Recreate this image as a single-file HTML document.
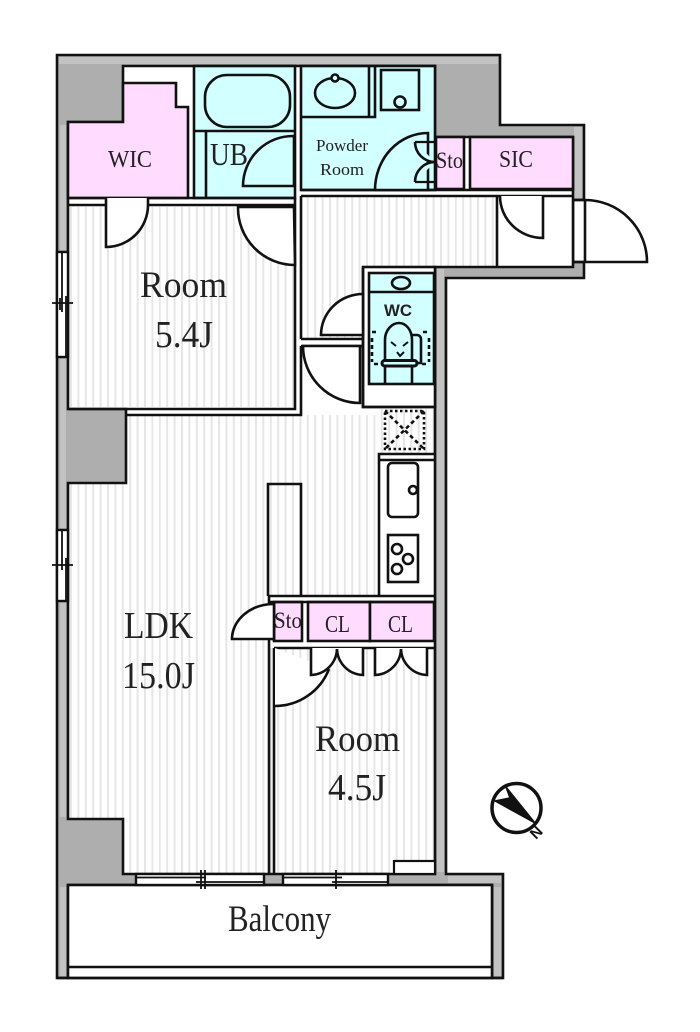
<!DOCTYPE html>
<html><head><meta charset="utf-8">
<style>html,body{margin:0;padding:0;background:#fff}svg{display:block}
text{font-family:"Liberation Serif",serif;fill:#222}</style></head>
<body>
<svg width="700" height="1032" viewBox="0 0 700 1032" xmlns="http://www.w3.org/2000/svg">
<defs>
<pattern id="st" x="68" y="0" width="7.4" height="20" patternUnits="userSpaceOnUse"><rect x="2" width="2" height="20" fill="#e6e6e6"/></pattern>
</defs>
<rect width="700" height="1032" fill="#fff"/>
<!-- outer concrete -->
<path d="M57,55H500V125H584V200H573V262H584V278H446V874H503V978H492V885H68V978H57Z" fill="#aeaeae" stroke="#111" stroke-width="2.6"/>
<!-- lighter thin wall bands -->
<g fill="#c2c2c2">
<rect x="59" y="57" width="439" height="7"/>
<rect x="60" y="125" width="6" height="125"/>
<rect x="60" y="359" width="6" height="169"/>
<rect x="60" y="603" width="6" height="214"/>
<rect x="60" y="887" width="6" height="89"/>
<rect x="494" y="887" width="7" height="89"/>
<rect x="574" y="127" width="8" height="71"/>
<rect x="437" y="269" width="7" height="603"/>
<rect x="448" y="876" width="53" height="7"/>
</g>
<!-- interior -->
<path d="M123,66H435V137H573V267H435V874H123V819H68V483H126V409H68V122H123Z" fill="#fff"/>
<path d="M69,207H295V407H69Z M126,415H379V596H269V648H274V874H123V819H69V483H126Z M301,196H497V267H363V340H301Z M275,649H434V874H275Z M379,409H434V454H379Z" fill="url(#st)"/>
<path d="M123,66H435V137H573V267H435V874H123V819H68V483H126V409H68V122H123Z" fill="none" stroke="#111" stroke-width="2.6"/>
<!-- wet rooms -->
<g stroke="#111" stroke-width="2.6">
<path d="M68,122H123V83H176V107H188V198H68Z" fill="#ffdcff"/>
<rect x="194" y="66" width="101" height="132" fill="#d2ffff"/>
<rect x="301" y="66" width="134" height="124" fill="#d2ffff"/>
<rect x="436" y="137" width="28" height="52" fill="#ffdcff"/>
<rect x="470" y="137" width="103" height="52" fill="#ffdcff"/>
<rect x="363" y="267" width="72" height="140" fill="#fff"/>
<rect x="369" y="273" width="65" height="111" fill="#d2ffff"/>
<rect x="274" y="602" width="28" height="39" fill="#ffdcff"/>
<rect x="308" y="602" width="62" height="39" fill="#ffdcff"/>
<rect x="370" y="602" width="64" height="39" fill="#ffdcff"/>
</g>
<!-- partition walls -->
<g fill="none" stroke="#111" stroke-width="2.6">
<path d="M194,131H295M206,131V198"/>
<rect x="205" y="75" width="85" height="52" rx="22"/>
<path d="M68,198H295M68,205H295M295,198V408M301,196V339M301,190H573M301,196H573M497,196V267"/>
<path d="M301,117H369M369,66V117H375V66"/>
<rect x="381" y="70" width="38" height="40"/>
<circle cx="400" cy="102" r="5.5"/>
<ellipse cx="335" cy="93" rx="20" ry="15"/>
<circle cx="335" cy="78" r="3.5" fill="#d2ffff"/>
<path d="M369,292H434"/>
<ellipse cx="401" cy="283" rx="9" ry="6"/>
<path d="M68,409H295V408M126,415H301V346M301,339H363M301,346H363"/>
<path d="M363,267V407H435" />
<path d="M379,596V454H434M379,460H434"/>
<path d="M268,596V484H301V596"/>
<path d="M269,596H435M269,602H435M269,596V875M274,648V875M274,648H435M274,602V641"/>
<rect x="394" y="861" width="41" height="13" fill="#fff" stroke-width="2.2"/>
<rect x="388" y="463" width="30" height="54" rx="4"/>
<circle cx="413" cy="490" r="4" fill="#fff"/>
<rect x="388" y="535" width="30" height="47"/>
<circle cx="397" cy="549" r="5"/><circle cx="408" cy="559" r="5"/><circle cx="397" cy="569" r="5"/>
<rect x="385" y="411" width="39" height="38" stroke-dasharray="2.5 2.5"/>
<path d="M385,411L424,449M424,411L385,449" stroke-dasharray="4 3"/>
</g>
<!-- doors -->
<g fill="#fff" stroke="#111" stroke-width="2.6">
<path d="M106,198V247A42,42 0 0 0 148,205V198" />
<path d="M294,207H238A57,57 0 0 0 295,265Z"/>
<path d="M294,186H243A50,50 0 0 1 294,136Z" fill="#d2ffff"/>
<path d="M428,133A53,57 0 0 0 375,190H428Z" fill="#d2ffff"/>
<path d="M415,142A20,20 0 0 0 435,162M415,182A20,20 0 0 1 435,162" fill="#d2ffff"/>
<path d="M415,182H435M415,142H435" fill="none" stroke-width="2.2"/>
<path d="M500,196A43,42 0 0 0 543,238V196" />
<path d="M585,200A62,62 0 0 1 647,262H585Z"/>
<path d="M363,294A42,41 0 0 0 321,335H363Z"/>
<path d="M303,346A57,57 0 0 0 360,403V346Z"/>
<path d="M274,604A42,35 0 0 0 232,639H274Z"/>
<path d="M275,706A58,58 0 0 0 329,669L275,648Z" stroke="none"/>
<path d="M275,706A58,58 0 0 0 329,669" fill="none"/>
<path d="M311,648V675A27,27 0 0 0 337,649A27,27 0 0 0 363,675V648"/>
<path d="M375,648V675A27,27 0 0 0 401,649A27,27 0 0 0 427,675V648"/>
<path d="M573,200H585M573,262H585" fill="none"/>
</g>
<rect x="574.5" y="201.5" width="9" height="59" fill="#fff"/>
<!-- balcony -->
<g stroke="#111" stroke-width="2.6">
<rect x="68" y="885" width="424" height="93" fill="#fff"/>
<path d="M68,967H492M57,978H503" fill="none"/>
</g>
<!-- sashes -->
<g fill="#fff" stroke="#111" stroke-width="2.4">
<rect x="136" y="874" width="128" height="11"/>
<rect x="283" y="874" width="105" height="11"/>
<rect x="57" y="252" width="11" height="105"/>
<rect x="57" y="530" width="11" height="71"/>
</g>
<g fill="none" stroke="#111" stroke-width="1.8">
<path d="M136,877.5H206M196,882H264M201,870V889M205,870V889M283,877.5H342M332,882H388M336,870V889"/>
<path d="M62,252V312M66,296V357M52,303H73M60,298V310"/>
<path d="M62,530V570M66,558V601M52,565H73"/>
</g>
<!-- WC fixture -->
<g fill="none" stroke="#111" stroke-width="2.6">
<path d="M385,361V340C385,330 392,323 399,323C406,323 412,330 412,340V361"/>
<rect x="382" y="360.500" width="35" height="5.500" rx="2.700" fill="#d2ffff" stroke-width="3"/>
<path d="M385,367V383M412,367V383"/>
<path d="M412,335H417A4,4 0 0 1 421,339V363H416"/>
<path d="M372,332H376M372,338V362M374,364H380M422,364H428M429,338V362M423,332H429" stroke-dasharray="4 3"/>
<path d="M391,342L396,346M408,342L403,346M397,352L400,356L404,352" stroke-width="2"/>
</g>
<!-- compass -->
<circle cx="516.500" cy="808" r="24.500" fill="#fff" stroke="#111" stroke-width="3.500"/>
<path d="M506,787L510,798L495,801L535,823Z" fill="#111" stroke="#111" stroke-width="1.500"/>
<text x="0" y="0" font-size="15" font-weight="bold" transform="translate(536,840) rotate(-45)" style="font-family:'Liberation Sans',sans-serif;fill:#111">N</text>
<!-- labels -->
<text x="140" y="297" font-size="37" textLength="87" lengthAdjust="spacingAndGlyphs">Room</text>
<text x="155" y="347" font-size="38" textLength="58" lengthAdjust="spacingAndGlyphs">5.4J</text>
<text x="124" y="638" font-size="38" textLength="69" lengthAdjust="spacingAndGlyphs">LDK</text>
<text x="122" y="688" font-size="38" textLength="73" lengthAdjust="spacingAndGlyphs">15.0J</text>
<text x="315" y="751" font-size="37" textLength="85" lengthAdjust="spacingAndGlyphs">Room</text>
<text x="328" y="800" font-size="38" textLength="58" lengthAdjust="spacingAndGlyphs">4.5J</text>
<text x="228" y="931" font-size="37" textLength="103" lengthAdjust="spacingAndGlyphs">Balcony</text>
<text x="108" y="167" font-size="24" textLength="44" lengthAdjust="spacingAndGlyphs">WIC</text>
<text x="210" y="165" font-size="32" textLength="38" lengthAdjust="spacingAndGlyphs">UB</text>
<text x="316" y="151" font-size="17" textLength="52" lengthAdjust="spacingAndGlyphs">Powder</text>
<text x="320" y="175" font-size="17" textLength="44" lengthAdjust="spacingAndGlyphs">Room</text>
<text x="436" y="168" font-size="23" textLength="27" lengthAdjust="spacingAndGlyphs">Sto</text>
<text x="499" y="167" font-size="24" textLength="34" lengthAdjust="spacingAndGlyphs">SIC</text>
<text x="274" y="628" font-size="23" textLength="28" lengthAdjust="spacingAndGlyphs">Sto</text>
<text x="325" y="632" font-size="24" textLength="25" lengthAdjust="spacingAndGlyphs">CL</text>
<text x="388" y="632" font-size="24" textLength="25" lengthAdjust="spacingAndGlyphs">CL</text>
<text x="384" y="316" font-size="17" font-weight="bold" textLength="28" lengthAdjust="spacingAndGlyphs" style="font-family:'Liberation Sans',sans-serif">WC</text>
</svg>
</body></html>
